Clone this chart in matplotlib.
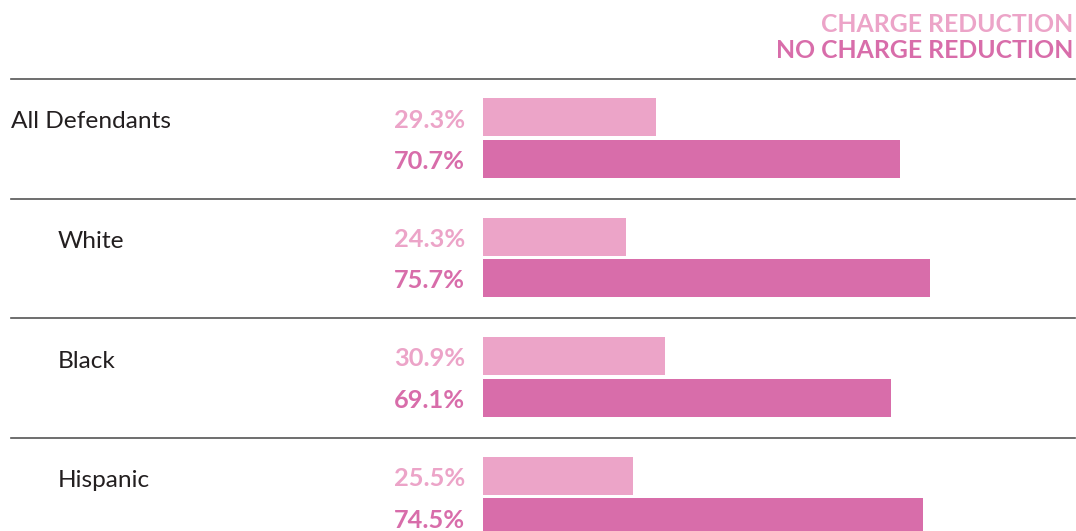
import matplotlib.pyplot as plt

groups = ["All Defendants", "White", "Black", "Hispanic"]
charge_red = [29.3, 24.3, 30.9, 25.5]
no_charge_red = [70.7, 75.7, 69.1, 74.5]
indent = [False, True, True, True]

light = "#eca4c8"
dark = "#d86daa"

plt.rcParams['font.family'] = ['Lato', 'DejaVu Sans']

fig = plt.figure(figsize=(10.76, 5.31), dpi=100)
ax = fig.add_axes([0, 0, 1, 1])
# x in percent, bars start at pixel 483, ~5.9 px per percent
scale = 5.9
x0 = 483
ax.set_xlim(-x0 / scale, (1076 - x0) / scale)
ax.set_ylim(531, 0)
ax.axis("off")

step = 119.5
bar_h = 38
for i, g in enumerate(groups):
    yl = 117 + step * i
    yd = 158.5 + step * i
    ax.barh(yl, charge_red[i], height=bar_h, color=light, left=0)
    ax.barh(yd, no_charge_red[i], height=bar_h, color=dark, left=0)
    ax.text(-18 / scale, yl + 3, f"{charge_red[i]}%", ha="right", va="center",
            fontsize=18.3, fontweight="bold", color=light)
    ax.text(-18 / scale, yd + 3, f"{no_charge_red[i]}%", ha="right", va="center",
            fontsize=18.3, fontweight="bold", color=dark)
    lx = 58 if indent[i] else 11
    ax.text((lx - x0) / scale, yl + 5, g, ha="left", va="center",
            fontsize=17.6, color="#231f20")
    ax.plot([(11 - x0) / scale, (1075 - x0) / scale], [79 + step * i] * 2,
            color="#555555", lw=1.2)

ax.text((1073 - x0) / scale, 24, "CHARGE REDUCTION", ha="right", va="center",
        fontsize=17.8, fontweight="bold", color=light)
ax.text((1073 - x0) / scale, 50, "NO CHARGE REDUCTION", ha="right", va="center",
        fontsize=17.8, fontweight="bold", color=dark)

plt.savefig("out.png", dpi=100)
plt.close()
